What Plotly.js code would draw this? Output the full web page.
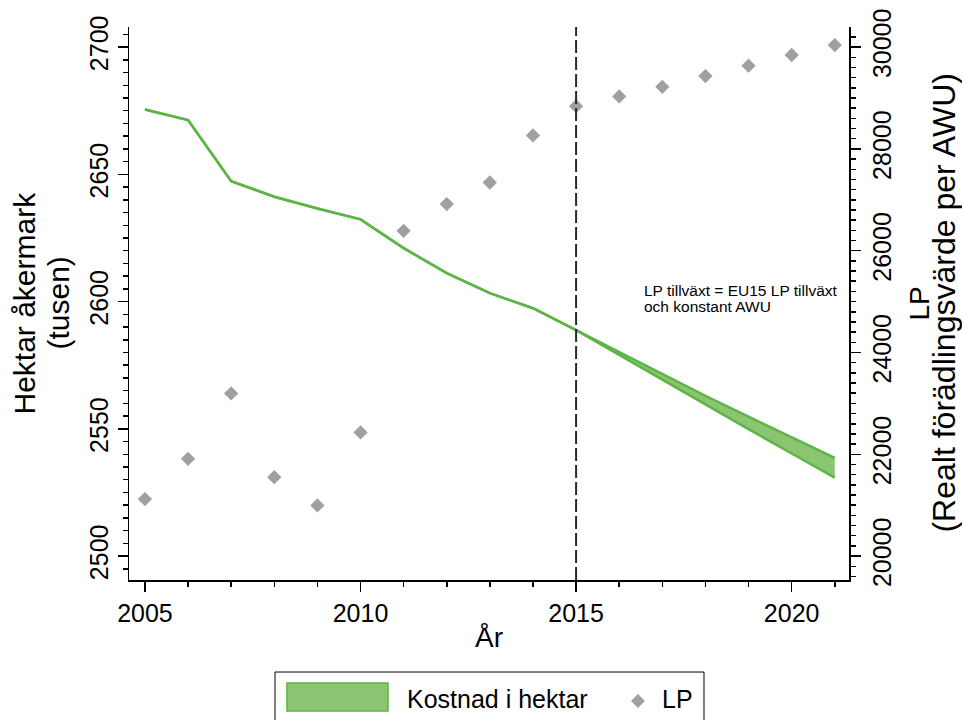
<!DOCTYPE html>
<html>
<head>
<meta charset="utf-8">
<script src="https://cdn.plot.ly/plotly-3.0.1.min.js"></script>
<style>html,body{margin:0;padding:0;background:#fff;}#chart{width:962px;height:720px;}</style>
</head>
<body>
<div id="chart"></div>
<script>
// ---- data ----
var years = [2005,2006,2007,2008,2009,2010,2011,2012,2013,2014,2015,2016,2017,2018,2019,2020,2021];
var hektarUpper = [2675.5,2671.3,2647.3,2641.2,2636.6,2632.3,2621.0,2611.2,2603.3,2597.4,2588.8,2580.2,2571.6,2563.0,2554.8,2546.6,2538.6];
var hektarLower = [2675.5,2671.3,2647.3,2641.2,2636.6,2632.3,2621.0,2611.2,2603.3,2597.4,2588.8,2579.0,2569.4,2559.6,2549.9,2540.3,2530.8];
var lpValues = [21120,21910,23195,21550,20995,22430,26390,26915,27340,28265,28840,29030,29220,29430,29635,29845,30040];
var xTicks = [2005,2010,2015,2020];
var yTicks = [2500,2550,2600,2650,2700];
var y2Ticks = [20000,22000,24000,26000,28000,30000];
var cutYear = 2015;

var FONT = 'Liberation Sans, Arial, sans-serif';
var green = '#5cb545', greenFill = '#8bc572', gray = '#a0a0a0';

var traces = [
  {x: years, y: hektarUpper, type: 'scatter', mode: 'lines', line: {color: green, width: 2.5}, hoverinfo: 'skip', showlegend: false},
  {x: years, y: hektarLower, type: 'scatter', mode: 'lines', fill: 'tonexty', fillcolor: greenFill, line: {color: green, width: 2.5}, name: 'Kostnad i hektar', showlegend: false},
  {x: years, y: lpValues, yaxis: 'y2', type: 'scatter', mode: 'markers', marker: {symbol: 'diamond', size: 11, color: gray}, name: 'LP', showlegend: false}
];

var axBase = {showgrid: false, zeroline: false, showline: true, linecolor: '#000', linewidth: 1.5,
  ticks: 'outside', ticklen: 10, tickwidth: 1.5, tickcolor: '#000',
  tickfont: {family: FONT, size: 25, color: '#000'}};

var layout = {
  width: 962, height: 720,
  margin: {l: 129, r: 113, t: 27, b: 140},
  paper_bgcolor: '#fff', plot_bgcolor: '#fff',
  showlegend: false,
  font: {family: FONT, color: '#000'},
  xaxis: Object.assign({}, axBase, {range: [2004.63, 2021.33], tickvals: xTicks, tickformat: 'd',
    minor: {dtick: 1, tick0: 2005, ticks: 'outside', ticklen: 5, tickwidth: 1.5, tickcolor: '#000'}}),
  yaxis: Object.assign({}, axBase, {range: [2490.6, 2707.9], tickvals: yTicks, tickangle: -90, tickformat: 'd',
    minor: {dtick: 5, tick0: 2500, ticks: 'outside', ticklen: 5, tickwidth: 1.5, tickcolor: '#000'}}),
  yaxis2: Object.assign({}, axBase, {overlaying: 'y', side: 'right', range: [19530, 30395], tickvals: y2Ticks, tickangle: -90, tickformat: 'd',
    minor: {dtick: 200, tick0: 20000, ticks: 'outside', ticklen: 5, tickwidth: 1.5, tickcolor: '#000'}}),
  shapes: [
    {type: 'line', xref: 'x', yref: 'paper', x0: cutYear, x1: cutYear, y0: 0, y1: 1, line: {color: '#2a2a2a', width: 2, dash: '13px,4px'}},
    // legend box
    {type: 'rect', xref: 'paper', yref: 'paper', x0: 0.2028, x1: 0.7986, y0: -0.1664, y1: -0.27, line: {color: '#000', width: 1}, fillcolor: 'rgba(0,0,0,0)'},
    {type: 'rect', xref: 'paper', yref: 'paper', x0: 0.2194, x1: 0.3597, y0: -0.1863, y1: -0.2369, line: {color: green, width: 1.5}, fillcolor: greenFill},
    {type: 'path', xref: 'paper', yref: 'paper', path: 'M 0.7069 -0.2061 L 0.7166 -0.2188 L 0.7069 -0.2315 L 0.6972 -0.2188 Z', fillcolor: gray, line: {width: 0}}
  ],
  annotations: [
    {xref: 'paper', yref: 'paper', x: 0.5, y: -0.104, xanchor: 'center', yanchor: 'middle', showarrow: false, text: 'År', font: {family: FONT, size: 28, color: '#000'}},
    {xref: 'paper', yref: 'paper', x: -0.1458, y: 0.5, xanchor: 'center', yanchor: 'middle', showarrow: false, textangle: -90, text: 'Hektar åkermark', font: {family: FONT, size: 30, color: '#000'}},
    {xref: 'paper', yref: 'paper', x: -0.0986, y: 0.5, xanchor: 'center', yanchor: 'middle', showarrow: false, textangle: -90, text: '(tusen)', font: {family: FONT, size: 30, color: '#000'}},
    {xref: 'paper', yref: 'paper', x: 1.0986, y: 0.5, xanchor: 'center', yanchor: 'middle', showarrow: false, textangle: -90, text: 'LP', font: {family: FONT, size: 28, color: '#000'}},
    {xref: 'paper', yref: 'paper', x: 1.1306, y: 0.5, xanchor: 'center', yanchor: 'middle', showarrow: false, textangle: -90, text: '(Realt förädlingsvärde per AWU)', font: {family: FONT, size: 32, color: '#000'}},
    {xref: 'paper', yref: 'paper', x: 0.7121, y: 0.5244, xanchor: 'left', yanchor: 'middle', showarrow: false, text: 'LP tillväxt = EU15 LP tillväxt', font: {family: FONT, size: 15.5, color: '#000'}},
    {xref: 'paper', yref: 'paper', x: 0.7121, y: 0.4937, xanchor: 'left', yanchor: 'middle', showarrow: false, text: 'och konstant AWU', font: {family: FONT, size: 15.5, color: '#000'}},
    {xref: 'paper', yref: 'paper', x: 0.3833, y: -0.2152, xanchor: 'left', yanchor: 'middle', showarrow: false, text: 'Kostnad i hektar', font: {family: FONT, size: 25, color: '#000'}},
    {xref: 'paper', yref: 'paper', x: 0.7375, y: -0.2152, xanchor: 'left', yanchor: 'middle', showarrow: false, text: 'LP', font: {family: FONT, size: 25, color: '#000'}}
  ]
};

Plotly.newPlot('chart', traces, layout, {displayModeBar: false, staticPlot: true});
</script>
</body>
</html>
